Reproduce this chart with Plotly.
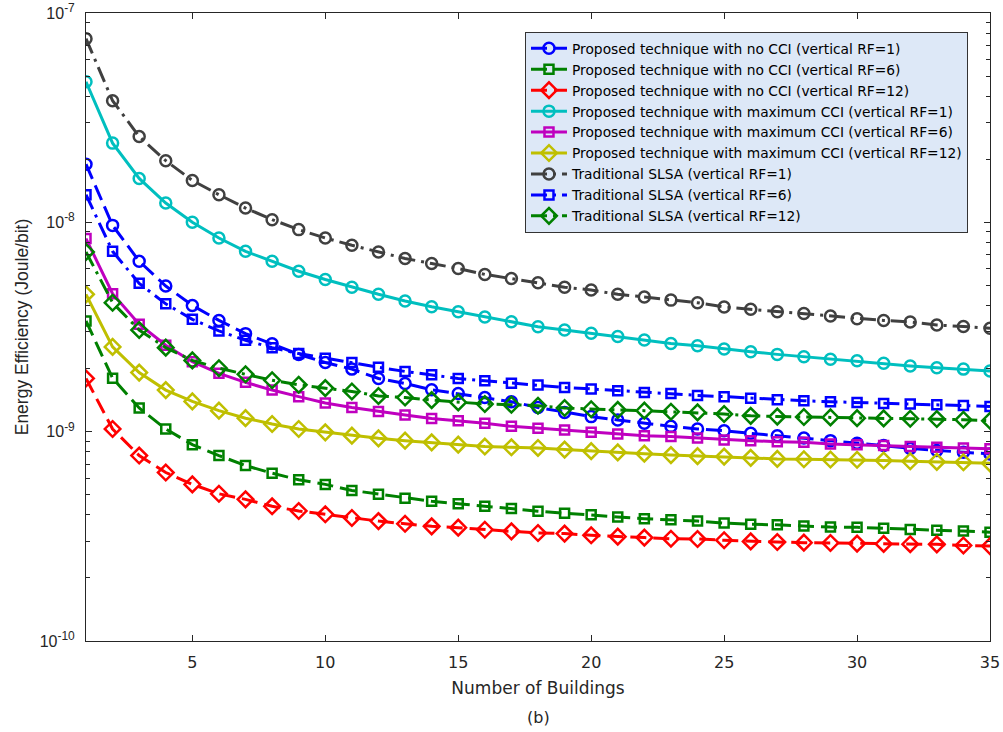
import plotly.graph_objects as go

buildings = list(range(1, 36))

prop_nocci_rf1 = [1.895e-8, 9.67e-9, 6.52e-9, 4.96e-9, 4.01e-9, 3.40e-9, 2.94e-9, 2.63e-9, 2.34e-9, 2.14e-9,
                  1.99e-9, 1.795e-9, 1.70e-9, 1.585e-9, 1.52e-9, 1.456e-9, 1.39e-9, 1.305e-9, 1.236e-9, 1.18e-9,
                  1.137e-9, 1.096e-9, 1.06e-9, 1.03e-9, 1.01e-9, 9.82e-10, 9.57e-10, 9.33e-10, 9.06e-10, 8.80e-10,
                  8.58e-10, 8.32e-10, 8.12e-10, 7.97e-10, 7.83e-10]
prop_nocci_rf6 = [3.38e-9, 1.80e-9, 1.297e-9, 1.03e-9, 8.67e-10, 7.69e-10, 6.89e-10, 6.33e-10, 5.89e-10, 5.60e-10,
                  5.24e-10, 5.03e-10, 4.81e-10, 4.65e-10, 4.53e-10, 4.40e-10, 4.29e-10, 4.17e-10, 4.08e-10, 4.01e-10,
                  3.91e-10, 3.84e-10, 3.80e-10, 3.74e-10, 3.66e-10, 3.61e-10, 3.59e-10, 3.54e-10, 3.50e-10, 3.49e-10,
                  3.46e-10, 3.41e-10, 3.38e-10, 3.35e-10, 3.31e-10]
prop_nocci_rf12 = [1.795e-9, 1.03e-9, 7.69e-10, 6.38e-10, 5.60e-10, 5.05e-10, 4.75e-10, 4.40e-10, 4.18e-10, 4.03e-10,
                   3.87e-10, 3.74e-10, 3.63e-10, 3.53e-10, 3.48e-10, 3.40e-10, 3.34e-10, 3.28e-10, 3.26e-10, 3.20e-10,
                   3.15e-10, 3.12e-10, 3.08e-10, 3.07e-10, 3.03e-10, 2.99e-10, 2.97e-10, 2.95e-10, 2.94e-10, 2.92e-10,
                   2.91e-10, 2.90e-10, 2.895e-10, 2.86e-10, 2.84e-10]
prop_maxcci_rf1 = [4.69e-8, 2.39e-8, 1.62e-8, 1.236e-8, 1.0e-8, 8.42e-9, 7.27e-9, 6.52e-9, 5.84e-9, 5.33e-9,
                   4.90e-9, 4.53e-9, 4.21e-9, 3.95e-9, 3.74e-9, 3.53e-9, 3.35e-9, 3.17e-9, 3.06e-9, 2.95e-9,
                   2.85e-9, 2.74e-9, 2.64e-9, 2.57e-9, 2.48e-9, 2.41e-9, 2.34e-9, 2.28e-9, 2.22e-9, 2.18e-9,
                   2.12e-9, 2.06e-9, 2.02e-9, 1.99e-9, 1.95e-9]
prop_maxcci_rf6 = [8.36e-9, 4.56e-9, 3.26e-9, 2.59e-9, 2.16e-9, 1.90e-9, 1.72e-9, 1.58e-9, 1.47e-9, 1.37e-9,
                   1.305e-9, 1.25e-9, 1.20e-9, 1.157e-9, 1.128e-9, 1.096e-9, 1.06e-9, 1.037e-9, 1.019e-9, 9.93e-10,
                   9.75e-10, 9.57e-10, 9.47e-10, 9.33e-10, 9.12e-10, 9.06e-10, 8.96e-10, 8.89e-10, 8.73e-10, 8.67e-10,
                   8.58e-10, 8.49e-10, 8.42e-10, 8.36e-10, 8.28e-10]
prop_maxcci_rf12 = [4.53e-9, 2.54e-9, 1.915e-9, 1.58e-9, 1.395e-9, 1.26e-9, 1.16e-9, 1.088e-9, 1.03e-9, 9.93e-10,
                    9.57e-10, 9.29e-10, 9.06e-10, 8.89e-10, 8.67e-10, 8.49e-10, 8.42e-10, 8.36e-10, 8.21e-10, 8.07e-10,
                    7.96e-10, 7.85e-10, 7.73e-10, 7.64e-10, 7.60e-10, 7.50e-10, 7.41e-10, 7.38e-10, 7.36e-10, 7.34e-10,
                    7.28e-10, 7.22e-10, 7.17e-10, 7.14e-10, 7.06e-10]
trad_rf1 = [7.54e-8, 3.81e-8, 2.57e-8, 1.97e-8, 1.585e-8, 1.355e-8, 1.17e-8, 1.03e-8, 9.23e-9, 8.42e-9,
            7.77e-9, 7.22e-9, 6.72e-9, 6.36e-9, 6.02e-9, 5.64e-9, 5.39e-9, 5.14e-9, 4.90e-9, 4.75e-9,
            4.53e-9, 4.40e-9, 4.25e-9, 4.13e-9, 3.94e-9, 3.84e-9, 3.74e-9, 3.67e-9, 3.57e-9, 3.46e-9,
            3.40e-9, 3.34e-9, 3.23e-9, 3.18e-9, 3.12e-9]
trad_rf6 = [1.355e-8, 7.27e-9, 5.11e-9, 4.08e-9, 3.44e-9, 3.03e-9, 2.73e-9, 2.52e-9, 2.36e-9, 2.24e-9,
            2.14e-9, 2.03e-9, 1.94e-9, 1.87e-9, 1.795e-9, 1.75e-9, 1.705e-9, 1.67e-9, 1.625e-9, 1.60e-9,
            1.57e-9, 1.54e-9, 1.52e-9, 1.49e-9, 1.47e-9, 1.445e-9, 1.42e-9, 1.405e-9, 1.39e-9, 1.38e-9,
            1.365e-9, 1.355e-9, 1.345e-9, 1.335e-9, 1.32e-9]
trad_rf12 = [7.22e-9, 4.13e-9, 3.06e-9, 2.52e-9, 2.19e-9, 2.01e-9, 1.88e-9, 1.76e-9, 1.675e-9, 1.615e-9,
             1.556e-9, 1.48e-9, 1.456e-9, 1.415e-9, 1.38e-9, 1.355e-9, 1.345e-9, 1.33e-9, 1.297e-9, 1.28e-9,
             1.27e-9, 1.26e-9, 1.245e-9, 1.236e-9, 1.214e-9, 1.19e-9, 1.18e-9, 1.175e-9, 1.17e-9, 1.16e-9,
             1.157e-9, 1.153e-9, 1.149e-9, 1.14e-9, 1.128e-9]

series_names = [
    "Proposed technique with no CCI (vertical RF=1)",
    "Proposed technique with no CCI (vertical RF=6)",
    "Proposed technique with no CCI (vertical RF=12)",
    "Proposed technique with maximum CCI (vertical RF=1)",
    "Proposed technique with maximum CCI (vertical RF=6)",
    "Proposed technique with maximum CCI (vertical RF=12)",
    "Traditional SLSA (vertical RF=1)",
    "Traditional SLSA (vertical RF=6)",
    "Traditional SLSA (vertical RF=12)",
]
series_values = [prop_nocci_rf1, prop_nocci_rf6, prop_nocci_rf12,
                 prop_maxcci_rf1, prop_maxcci_rf6, prop_maxcci_rf12,
                 trad_rf1, trad_rf6, trad_rf12]

x_ticks = [5, 10, 15, 20, 25, 30, 35]
y_ticks = [1e-10, 1e-9, 1e-8, 1e-7]
y_exponents = ["-10", "-9", "-8", "-7"]
y_ticktext = ["10<sup><span style='font-size:12px'>%s</span></sup>" % e for e in y_exponents]

DASH = "16px,7px"
DASHDOT = "16px,6px,3px,6px"
styles = [
    ("#0000FF", DASH, "circle-open", 11),
    ("#008000", DASH, "square-open", 9),
    ("#FF0000", DASH, "diamond-open", 12),
    ("#00BFBF", "solid", "circle-open", 11),
    ("#BF00BF", "solid", "square-open", 9),
    ("#BFBF00", "solid", "diamond-open", 12),
    ("#404040", DASHDOT, "circle-open", 11),
    ("#0000FF", DASHDOT, "square-open", 9),
    ("#008000", DASHDOT, "diamond-open", 12),
]

fig = go.Figure()
for name, vals, (col, dash, sym, msz) in zip(series_names, series_values, styles):
    fig.add_trace(go.Scatter(
        x=buildings, y=vals, name=name, mode="lines+markers",
        line=dict(color=col, width=3, dash=dash),
        marker=dict(symbol=sym, size=msz, color=col, line=dict(width=2.5, color=col)),
    ))

minor_vals = [k * 10.0 ** e for e in (-10, -9, -8) for k in range(2, 10)]

axis_color = "#262626"
WIDE = "DejaVu Sans, Liberation Sans, Arial, sans-serif"
ARIAL = "Liberation Sans, Arial, sans-serif"
fig.update_layout(
    width=1003, height=732,
    margin=dict(l=86, r=13, t=13, b=91, autoexpand=False),
    paper_bgcolor="white", plot_bgcolor="white",
    font=dict(family=ARIAL, size=14, color=axis_color),
    showlegend=True,
    legend=dict(
        x=0.4856, y=0.97, xanchor="left", yanchor="top",
        bgcolor="#DDE8F7", bordercolor="#333333", borderwidth=1,
        font=dict(family=WIDE, size=13.8, color="black"),
        tracegroupgap=0, itemwidth=36,
    ),
    xaxis=dict(
        range=[1, 35], tickmode="array", tickvals=x_ticks, automargin=False,
        ticks="inside", ticklen=6, tickcolor=axis_color,
        showline=True, linecolor=axis_color, linewidth=1, mirror="ticks",
        showgrid=False, zeroline=False,
        ticklabelstandoff=7, ticklabeloverflow="allow",
        tickfont=dict(family=WIDE, size=16),
        title=dict(text="Number of Buildings", font=dict(family=WIDE, size=17), standoff=10),
    ),
    yaxis=dict(
        type="log", range=[-10, -7], tickmode="array", tickvals=y_ticks, ticktext=y_ticktext,
        automargin=False,
        ticks="inside", ticklen=6, tickcolor=axis_color,
        minor=dict(ticks="inside", ticklen=4, tickcolor=axis_color, tickmode="array", tickvals=minor_vals, showgrid=False),
        showline=True, linecolor=axis_color, linewidth=1, mirror="ticks",
        showgrid=False, zeroline=False,
        ticklabelstandoff=7, ticklabeloverflow="allow",
        tickfont=dict(family=ARIAL, size=16),
        title=dict(text="Energy Efficiency (Joule/bit)", font=dict(family=ARIAL, size=17.5), standoff=6),
    ),
    annotations=[dict(
        text="(b)", xref="paper", yref="paper", x=0.5, y=-0.1222, yanchor="middle",
        showarrow=False, font=dict(family=WIDE, size=16, color=axis_color),
    )],
)

fig.write_html(
    "out.html",
    config={"displayModeBar": False},
    post_script="document.body.style.margin='0';document.body.style.overflow='hidden';",
)
